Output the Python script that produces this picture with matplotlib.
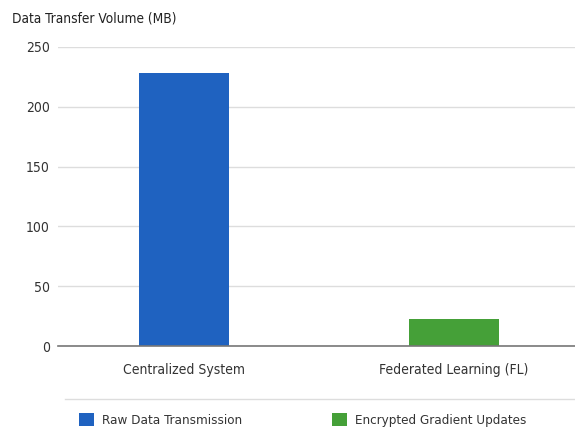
import matplotlib.pyplot as plt
from matplotlib.lines import Line2D
from matplotlib.patches import Patch

categories = ["Centralized System", "Federated Learning (FL)"]
volumes = [228, 23]
series_names = ["Raw Data Transmission", "Encrypted Gradient Updates"]
colors = ["#1f62c0", "#45a038"]
yticks = [0, 50, 100, 150, 200, 250]

plt.rcParams["font.family"] = ["DejaVu Sans"]
plt.rcParams["font.stretch"] = "condensed"

fig = plt.figure(figsize=(5.75, 4.3), dpi=100)
ax = fig.add_axes([58 / 575, 0.195, 1 - 58 / 575, 0.696])

xs = range(len(categories))
ax.bar(xs, volumes, width=0.333, color=colors, zorder=3)

ax.set_xlim(-0.467, 1.448)
ax.set_ylim(0, 250)
ax.set_yticks(yticks)
ax.set_xticks(list(xs))
ax.set_xticklabels(categories, fontsize=9.8, color="#333333")
ax.tick_params(axis="both", length=0, labelsize=10, colors="#333333")
ax.tick_params(axis="x", pad=12)
ax.tick_params(axis="y", pad=6)
ax.grid(axis="y", color="#dddddd", linewidth=1, zorder=0)
for side in ["top", "right", "left"]:
    ax.spines[side].set_visible(False)
ax.spines["bottom"].set_color("#777777")
ax.spines["bottom"].set_linewidth(1.2)
ax.spines["bottom"].set_zorder(4)

fig.text(12 / 575, 1 - 18 / 430, "Data Transfer Volume (MB)", fontsize=9.8,
         color="#222222", va="center", ha="left")

# separator above legend
fig.add_artist(Line2D([65 / 575, 1.0], [0.073, 0.073], color="#dddddd", linewidth=1))

handles = [Patch(facecolor=c, edgecolor="none") for c in colors]
fig.legend(handles, series_names, loc="center left", bbox_to_anchor=(79 / 575, 0.0233),
           ncol=2, frameon=False, fontsize=9.6, handlelength=1.13, handleheight=1.2,
           handletextpad=0.6, columnspacing=6.7, borderpad=0, borderaxespad=0,
           labelcolor="#333333")

fig.savefig("out.png", dpi=100)
